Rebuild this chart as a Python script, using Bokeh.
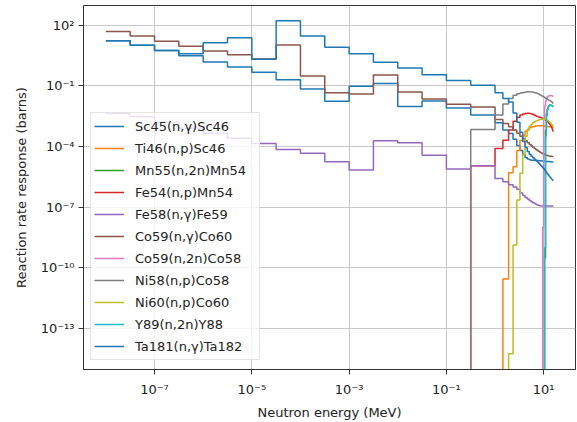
import numpy as np
from bokeh.plotting import figure
from bokeh.models import Range1d, FixedTicker, Legend, LegendItem
from bokeh.embed import file_html
from bokeh.resources import INLINE

# Group boundaries (MeV)
energy_edges = [1e-8, 3.162e-8, 1e-7, 3.162e-7, 1e-6, 3.162e-6, 1e-5, 3.162e-5,
                1e-4, 3.162e-4, 1e-3, 3.162e-3, 1e-2, 3.162e-2, 0.1, 0.3162, 1.0,
                1.45, 1.9, 2.35, 2.8, 3.25, 3.7, 4.15, 4.6, 5.05, 5.5, 5.95, 6.4,
                6.85, 7.3, 7.75, 8.2, 8.65, 9.1, 9.55, 10.0, 10.45, 10.9, 11.35,
                11.8, 12.25, 12.7, 13.15, 13.6, 14.05, 14.5, 14.95, 15.4, 15.85]

N = None  # zero response in that group
# log10 of the response per group (16 groups below 1 MeV, 33 above)
sc45_ng = [1.23, 1.01, 0.75, 0.48, 0.17, -0.07, -0.33, -0.70, -1.16, -1.77, -1.02, -0.89, -2.02, -1.75, -2.10, -2.45,
           -2.83, -3.19, -3.36, -3.65, -3.95, -4.2, -4.4, -4.55, -4.62, -4.66, -4.68, -4.68, -4.69, -4.69, -4.7, -4.7,
           -4.71, -4.71, -4.72, -4.72, -4.73, -4.73, -4.74, -4.74, -4.75, -4.75, -4.75, -4.76, -4.76, -4.76, -4.77, -4.77, -4.77]
ti46_np = [N] * 16 + [N, -10.55, -5.30, -5.0, -4.2, -3.7, -3.45, -3.25, -3.15, -3.08, -3.04, -3.02, -3.0, -2.99, -2.98, -2.98,
           -2.98, -2.98, -2.98, -2.99, -2.99, -3.0, -3.0, -3.01, -3.01, -3.02, -3.02, -3.03, -3.03, -3.04, -3.04, -3.05, -3.05]
mn55_n2n = [N] * 16 + [N] * 21 + [-9.5, -3.2, -2.4, -2.15, -2.05, -1.98, -1.95, -1.95, -1.96, -1.98, -2.0, -2.03]
fe54_np = [N] * 15 + [-4.96] + [-4.10, -3.69, -3.19, -2.75, -2.55, -2.45, -2.4, -2.37, -2.36, -2.37, -2.4, -2.43, -2.46,
           -2.49, -2.52, -2.54, -2.56, -2.58, -2.6, -2.62, -2.65, -2.68, -2.71, -2.74, -2.78, -2.82, -2.86, -2.9, -2.95,
           -3.0, -3.08, -3.16, -3.25]
fe58_ng = [-2.37, -2.53, -2.8, -3.1, -3.35, -3.6, -3.85, -4.15, -4.34, -4.76, -5.17, -3.72, -3.82, -4.43, -5.12, -4.96,
           -5.58, -5.75, -5.9, -6.0, -6.12, -6.3, -6.42, -6.52, -6.6, -6.67, -6.73, -6.78, -6.82, -6.86, -6.89, -6.91,
           -6.93, -6.94, -6.94, -6.94, -6.94, -6.94, -6.94, -6.94, -6.94, -6.94, -6.94, -6.94, -6.94, -6.94, -6.94, -6.94, -6.94]
co59_ng = [1.69, 1.46, 1.20, 0.95, 0.72, 0.53, 0.32, 1.02, -0.52, -1.34, -1.41, -0.47, -1.31, -1.65, -1.91, -2.05,
           -2.67, -2.87, -3.03, -3.19, -3.35, -3.5, -3.62, -3.72, -3.82, -3.9, -3.98, -4.05, -4.1, -4.15, -4.2, -4.24,
           -4.28, -4.31, -4.34, -4.37, -4.39, -4.41, -4.43, -4.44, -4.45, -4.46, -4.47, -4.48, -4.48, -4.49, -4.49, -4.5, -4.5]
co59_n2n = [N] * 16 + [N] * 19 + [-8.0, -2.6, -2.0, -1.75, -1.62, -1.56, -1.52, -1.5, -1.49, -1.48, -1.48, -1.49, -1.5, -1.52]
ni58_np = [N] * 15 + [-3.16] + [-2.45, -1.9, -1.63, -1.47, -1.40, -1.36, -1.33, -1.31, -1.30, -1.30, -1.31, -1.32, -1.34,
           -1.36, -1.38, -1.41, -1.44, -1.47, -1.5, -1.53, -1.56, -1.59, -1.62, -1.65, -1.67, -1.69, -1.71, -1.73, -1.75,
           -1.77, -1.8, -1.83, -1.86]
ni60_np = [N] * 16 + [N, N, -14.25, -8.87, -6.65, -5.33, -4.4, -3.5, -3.2, -3.0, -2.9, -2.82, -2.78, -2.74, -2.71, -2.69,
           -2.67, -2.66, -2.65, -2.65, -2.65, -2.66, -2.67, -2.69, -2.71, -2.74, -2.77, -2.8, -2.84, -2.88, -2.92, -2.96, -3.0]
y89_n2n = [N] * 16 + [N] * 21 + [-9.0, -3.5, -2.5, -2.2, -2.05, -1.98, -1.95, -1.95, -1.96, -1.98, -2.0, -2.03]
ta181_ng = [1.23, 1.01, 0.75, 0.58, 1.13, 1.37, 0.31, 2.21, 1.46, 0.91, 0.59, 0.16, -0.12, -0.46, -0.74, -0.97,
            -1.34, -1.63, -1.80, -2.35, -2.8, -3.3, -3.75, -4.05, -4.25, -4.38, -4.48, -4.56, -4.63, -4.7, -4.76, -4.82,
            -4.88, -4.94, -5.0, -5.06, -5.12, -5.18, -5.24, -5.3, -5.35, -5.4, -5.45, -5.5, -5.54, -5.58, -5.62, -5.65, -5.68]

reactions = ["Sc45(n,\u03b3)Sc46", "Ti46(n,p)Sc46", "Mn55(n,2n)Mn54", "Fe54(n,p)Mn54", "Fe58(n,\u03b3)Fe59",
             "Co59(n,\u03b3)Co60", "Co59(n,2n)Co58", "Ni58(n,p)Co58", "Ni60(n,p)Co60", "Y89(n,2n)Y88",
             "Ta181(n,\u03b3)Ta182"]
series = [sc45_ng, ti46_np, mn55_n2n, fe54_np, fe58_ng, co59_ng, co59_n2n, ni58_np, ni60_np, y89_n2n, ta181_ng]
colors = ["#1f77b4", "#ff7f0e", "#2ca02c", "#d62728", "#9467bd", "#8c564b", "#e377c2", "#7f7f7f",
          "#bcbd22", "#17becf", "#1f77b4"]

x_ticks = [1e-7, 1e-5, 1e-3, 1e-1, 1e1]
x_tick_labels = ["10\u207b\u2077", "10\u207b\u2075", "10\u207b\u00b3", "10\u207b\u00b9", "10\u00b9"]
y_ticks = [1e2, 1e-1, 1e-4, 1e-7, 1e-10, 1e-13]
y_tick_labels = ["10\u00b2", "10\u207b\u00b9", "10\u207b\u2074", "10\u207b\u2077", "10\u207b\u00b9\u2070", "10\u207b\u00b9\u00b3"]

FONT = "DejaVu Sans"

p = figure(width=577, height=422, x_axis_type="log", y_axis_type="log",
           x_range=Range1d(10 ** -8.46, 10 ** 1.654), y_range=Range1d(10 ** -15.03, 10 ** 2.97),
           output_backend="svg", toolbar_location=None,
           min_border_left=83, min_border_right=2, min_border_top=5, min_border_bottom=52)
p.background_fill_color = "white"
p.border_fill_color = "white"
p.outline_line_color = "#333333"
p.outline_line_width = 1

edges = np.array(energy_edges)
items = []
for name, vals, col in zip(reactions, series, colors):
    v = np.array([10.0 ** a if a is not None else 1e-30 for a in vals])
    y = np.append(v, v[-1])
    r = p.step(x=edges, y=y, mode="after", line_color=col, line_width=1.5)
    items.append(LegendItem(label=name, renderers=[r]))

for ax, ticks, labs in ((p.xaxis[0], x_ticks, x_tick_labels), (p.yaxis[0], y_ticks, y_tick_labels)):
    ax.ticker = FixedTicker(ticks=ticks, minor_ticks=[])
    ax.major_label_overrides = {t: l for t, l in zip(ticks, labs)}
    ax.major_label_text_font = FONT
    ax.major_label_text_font_size = "13px"
    ax.major_label_text_color = "#222222"
    ax.axis_label_text_font = FONT
    ax.axis_label_text_font_size = "13px"
    ax.axis_label_text_font_style = "normal"
    ax.axis_label_text_color = "#222222"
    ax.major_tick_out = 5
    ax.major_tick_in = 0
    ax.minor_tick_line_color = None
    ax.major_tick_line_color = "#333333"
    ax.axis_line_color = "#333333"

p.xaxis.axis_label = "Neutron energy (MeV)"
p.yaxis.axis_label = "Reaction rate response (barns)"
p.xaxis.major_label_standoff = 7
p.xaxis.axis_label_standoff = 5
p.yaxis.major_label_standoff = 4
p.yaxis.axis_label_standoff = 9

p.xgrid.ticker = FixedTicker(ticks=x_ticks)
p.ygrid.ticker = FixedTicker(ticks=y_ticks)
p.grid.grid_line_color = "#c8c8c8"
p.grid.grid_line_width = 1

legend = Legend(items=items, location=(7, 9), margin=0, padding=3, spacing=2,
                glyph_width=30, glyph_height=20, label_height=20, label_width=121,
                label_standoff=11, label_text_font=FONT, label_text_font_size="13px",
                label_text_color="#222222", border_line_color="#cccccc", border_line_width=1,
                background_fill_color="white", background_fill_alpha=0.8)
p.add_layout(legend, "center")

open("out.html", "w").write(file_html(p, INLINE))
